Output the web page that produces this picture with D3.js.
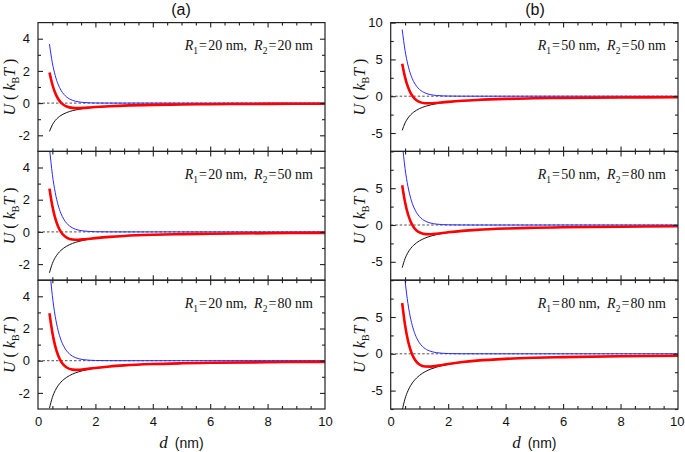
<!DOCTYPE html>
<html><head><meta charset="utf-8">
<script src="https://cdn.jsdelivr.net/npm/d3@7"></script>
<style>body{margin:0;background:#fff}svg{display:block}</style>
</head><body>
<svg id="chart" width="685" height="452"></svg>
<script>
// ---- data (d in nm, U in kBT) ----
const distance = [0.4,0.5,0.6,0.7,0.8,0.9,1.0,1.2,1.4,1.6,1.8,2.0,2.5,3,4,5,6,8,10];

const blueA1  = [3.66,2.50,1.71,1.17,0.80,0.548,0.374,0.175,0.082,0.038,0.018,0.008,0.001,0,0,0,0,0,0];
const blackA1 = [-1.76,-1.347,-1.082,-0.899,-0.766,-0.665,-0.586,-0.471,-0.391,-0.334,-0.290,-0.255,-0.195,-0.157,-0.111,-0.085,-0.068,-0.048,-0.037];
const redA1   = [1.90,1.156,0.630,0.271,0.034,-0.117,-0.212,-0.296,-0.309,-0.296,-0.272,-0.247,-0.194,-0.157,-0.111,-0.085,-0.068,-0.048,-0.037];

const blueA2  = [5.23,3.577,2.446,1.673,1.144,0.782,0.535,0.250,0.117,0.055,0.026,0.012,0.002,0,0,0,0,0,0];
const blackA2 = [-2.54,-1.965,-1.593,-1.335,-1.145,-1.000,-0.886,-0.718,-0.601,-0.516,-0.450,-0.399,-0.309,-0.250,-0.180,-0.139,-0.113,-0.081,-0.063];
const redA2   = [2.69,1.612,0.853,0.338,-0.001,-0.218,-0.351,-0.468,-0.484,-0.461,-0.424,-0.387,-0.307,-0.250,-0.180,-0.139,-0.113,-0.081,-0.063];

const blueA3  = [5.9,4.035,2.759,1.887,1.290,0.883,0.604,0.282,0.132,0.062,0.029,0.014,0.002,0,0,0,0,0,0];
const blackA3 = [-2.95,-2.282,-1.851,-1.550,-1.329,-1.161,-1.029,-0.834,-0.699,-0.599,-0.523,-0.463,-0.358,-0.291,-0.209,-0.162,-0.131,-0.094,-0.073];
const redA3   = [2.95,1.753,0.908,0.337,-0.039,-0.278,-0.425,-0.552,-0.567,-0.537,-0.494,-0.449,-0.356,-0.291,-0.209,-0.162,-0.131,-0.094,-0.073];

const blueB1  = [9.06,6.196,4.237,2.897,1.981,1.355,0.927,0.433,0.203,0.095,0.044,0.021,0.003,0,0,0,0,0,0];
const blackB1 = [-4.64,-3.630,-2.970,-2.507,-2.165,-1.901,-1.694,-1.385,-1.170,-1.010,-0.887,-0.790,-0.618,-0.506,-0.368,-0.288,-0.236,-0.172,-0.135];
const redB1   = [4.42,2.566,1.267,0.390,-0.184,-0.546,-0.767,-0.952,-0.967,-0.915,-0.843,-0.769,-0.615,-0.506,-0.368,-0.288,-0.236,-0.172,-0.135];

const blueB2  = [11.2,7.660,5.238,3.582,2.449,1.676,1.146,0.535,0.251,0.118,0.055,0.026,0.004,0,0,0,0,0,0];
const blackB2 = [-5.8,-4.558,-3.743,-3.169,-2.744,-2.416,-2.156,-1.771,-1.499,-1.297,-1.143,-1.020,-0.802,-0.658,-0.483,-0.379,-0.311,-0.228,-0.179];
const redB2   = [5.40,3.102,1.495,0.413,-0.295,-0.740,-1.010,-1.236,-1.248,-1.179,-1.088,-0.994,-0.798,-0.658,-0.483,-0.379,-0.311,-0.228,-0.179];

const blueB3  = [14.6,9.985,6.828,4.669,3.193,2.184,1.494,0.698,0.327,0.153,0.072,0.034,0.005,0,0,0,0,0,0];
const blackB3 = [-7.7,-6.091,-5.030,-4.279,-3.719,-3.286,-2.942,-2.429,-2.067,-1.796,-1.587,-1.421,-1.124,-0.928,-0.686,-0.543,-0.448,-0.331,-0.262];
const redB3   = [6.90,3.894,1.798,0.390,-0.526,-1.102,-1.448,-1.731,-1.740,-1.643,-1.515,-1.387,-1.119,-0.928,-0.686,-0.543,-0.448,-0.331,-0.262];

const columnTitles = ["(a)", "(b)"];
const radiusPairs = [["20","20"],["20","50"],["20","80"],["50","50"],["50","80"],["80","80"]];
const xTickValues = [0,2,4,6,8,10];
const xMinorValues = [0.5,1,1.5,2.5,3,3.5,4.5,5,5.5,6.5,7,7.5,8.5,9,9.5];
const yDomainA = [-3,5], yTicksA = [-2,0,2,4], yMinorA = [-1,1,3];
const yDomainB = [-7.5,10], yTicksB = [-5,0,5,10], yMinorB = [-7.5,-2.5,2.5,7.5];

const panels = [
  {col:0,row:0,blue:blueA1,black:blackA1,red:redA1,r:radiusPairs[0]},
  {col:0,row:1,blue:blueA2,black:blackA2,red:redA2,r:radiusPairs[1]},
  {col:0,row:2,blue:blueA3,black:blackA3,red:redA3,r:radiusPairs[2]},
  {col:1,row:0,blue:blueB1,black:blackB1,red:redB1,r:radiusPairs[3]},
  {col:1,row:1,blue:blueB2,black:blackB2,red:redB2,r:radiusPairs[4]},
  {col:1,row:2,blue:blueB3,black:blackB3,red:redB3,r:radiusPairs[5]},
];

// ---- layout ----
const svg = d3.select("#chart");
svg.append("rect").attr("width",685).attr("height",452).attr("fill","#fff");
const cols = [{x0:38,x1:325,label:9,titleX:181},{x0:390.7,x1:678,label:359,titleX:535}];
const top0 = 22.6, panelH = 128.8;
const sans = "'Liberation Sans', Arial, sans-serif";
const serif = "'Liberation Serif', 'Times New Roman', serif";

columnTitles.forEach((t,i)=>{
  svg.append("text").attr("x",cols[i].titleX).attr("y",15).attr("text-anchor","middle")
    .attr("font-family",sans).attr("font-size",16).attr("fill","#111").text(t);
});

panels.forEach((p,idx)=>{
  const c = cols[p.col];
  const y0 = top0 + p.row*panelH, y1 = y0 + panelH;
  const x = d3.scaleLinear().domain([0,10]).range([c.x0,c.x1]);
  const y = d3.scaleLinear().domain(p.col===0?yDomainA:yDomainB).range([y1,y0]);
  const g = svg.append("g");
  const clipId = "clip"+idx;
  svg.append("clipPath").attr("id",clipId).append("rect")
    .attr("x",c.x0).attr("y",y0).attr("width",c.x1-c.x0).attr("height",panelH);

  // zero dashed line
  g.append("line").attr("x1",c.x0).attr("x2",c.x1).attr("y1",y(0)).attr("y2",y(0))
    .attr("stroke","#222").attr("stroke-width",0.8).attr("stroke-dasharray","2.5,2");

  const line = series => d3.line().curve(d3.curveMonotoneX)
    .x((d,i)=>x(distance[i])).y(d=>y(d))(series);
  const cg = g.append("g").attr("clip-path",`url(#${clipId})`);
  cg.append("path").attr("d",line(p.black)).attr("fill","none").attr("stroke","#111").attr("stroke-width",1);
  cg.append("path").attr("d",line(p.blue)).attr("fill","none").attr("stroke","#2a2aff").attr("stroke-width",1);
  cg.append("path").attr("d",line(p.red)).attr("fill","none").attr("stroke","#ff0000").attr("stroke-width",2.6)
    .attr("stroke-linejoin","round");

  // axes
  const ticks = p.col===0?yTicksA:(p.row===0?yTicksB:yTicksB.filter(v=>v!==10));
  const minorY = p.col===0?yMinorA:yMinorB;
  const styleAxis = sel => { sel.select(".domain").remove();
    sel.selectAll("line").attr("stroke","#222").attr("stroke-width",1.1);
    sel.selectAll("text").attr("font-family",sans).attr("font-size",13).attr("fill","#111"); };
  g.append("g").attr("transform",`translate(${c.x0},0)`)
    .call(d3.axisLeft(y).tickValues(ticks).tickSizeInner(-5).tickSizeOuter(0).tickPadding(8).tickFormat(v=>String(v)))
    .call(styleAxis);
  g.append("g").attr("transform",`translate(${c.x0},0)`)
    .call(d3.axisLeft(y).tickValues(minorY).tickSizeInner(-3).tickSizeOuter(0).tickFormat(""))
    .call(styleAxis);
  g.append("g").attr("transform",`translate(${c.x1},0)`)
    .call(d3.axisRight(y).tickValues(ticks).tickSizeInner(-5).tickSizeOuter(0).tickFormat(""))
    .call(styleAxis);
  g.append("g").attr("transform",`translate(${c.x1},0)`)
    .call(d3.axisRight(y).tickValues(minorY).tickSizeInner(-3).tickSizeOuter(0).tickFormat(""))
    .call(styleAxis);
  g.append("g").attr("transform",`translate(0,${y1})`)
    .call(d3.axisBottom(x).tickValues(xTickValues.slice(1,-1)).tickSizeInner(-5).tickSizeOuter(0).tickPadding(8)
      .tickFormat(p.row===2?(v=>String(v)):""))
    .call(styleAxis);
  if (p.row===2) {
    const ends = g.append("g").attr("transform",`translate(0,${y1})`)
      .call(d3.axisBottom(x).tickValues([0,10]).tickSizeInner(0).tickSizeOuter(0).tickPadding(8).tickFormat(v=>String(v)))
      .call(styleAxis);
    if (p.col===1) {
      ends.selectAll(".tick").filter(v=>v===10).select("text").attr("text-anchor","end").attr("x",684-c.x1);
    }
  }
  g.append("g").attr("transform",`translate(0,${y1})`)
    .call(d3.axisBottom(x).tickValues(xMinorValues).tickSizeInner(-3).tickSizeOuter(0).tickFormat(""))
    .call(styleAxis);
  g.append("g").attr("transform",`translate(0,${y0})`)
    .call(d3.axisTop(x).tickValues(xTickValues.slice(1,-1)).tickSizeInner(-5).tickSizeOuter(0).tickFormat(""))
    .call(styleAxis);
  g.append("g").attr("transform",`translate(0,${y0})`)
    .call(d3.axisTop(x).tickValues(xMinorValues).tickSizeInner(-3).tickSizeOuter(0).tickFormat(""))
    .call(styleAxis);

  // frame
  g.append("rect").attr("x",c.x0).attr("y",y0).attr("width",c.x1-c.x0).attr("height",panelH)
    .attr("fill","none").attr("stroke","#222").attr("stroke-width",1.2);

  // annotation
  const t = g.append("text").attr("x",c.x1-12).attr("y",y0+27.5).attr("text-anchor","end")
    .attr("font-family",serif).attr("font-size",14).attr("fill","#111");
  t.append("tspan").attr("font-style","italic").text("R");
  t.append("tspan").attr("font-size",9.5).attr("dy",4).text("1");
  t.append("tspan").attr("dy",-4).text("\u200a=\u200a"+p.r[0]+" nm,\u2002");
  t.append("tspan").attr("font-style","italic").text("R");
  t.append("tspan").attr("font-size",9.5).attr("dy",4).text("2");
  t.append("tspan").attr("dy",-4).text("\u200a=\u200a"+p.r[1]+" nm");

  // y label
  const cy = (y0+y1)/2;
  const yl = g.append("text").attr("transform",`translate(${c.label},${cy}) rotate(-90)`)
    .attr("text-anchor","middle").attr("dy","0.35em").attr("font-family",serif).attr("font-size",16).attr("fill","#111");
  yl.append("tspan").attr("font-style","italic").text("U");
  yl.append("tspan").text(" ( ");
  yl.append("tspan").attr("font-style","italic").text("k");
  yl.append("tspan").attr("font-size",10).attr("dy",4).text("B");
  yl.append("tspan").attr("font-style","italic").attr("dy",-4).text("T");
  yl.append("tspan").text(" )");

  // x label
  if (p.row===2) {
    const xl = svg.append("text").attr("x",(c.x0+c.x1)/2).attr("y",448).attr("text-anchor","middle").attr("fill","#111");
    xl.append("tspan").attr("font-family",serif).attr("font-style","italic").attr("font-size",17).text("d");
    xl.append("tspan").attr("font-family",sans).attr("font-size",14).text("\u2002(nm)");
  }
});
</script>
</body></html>
